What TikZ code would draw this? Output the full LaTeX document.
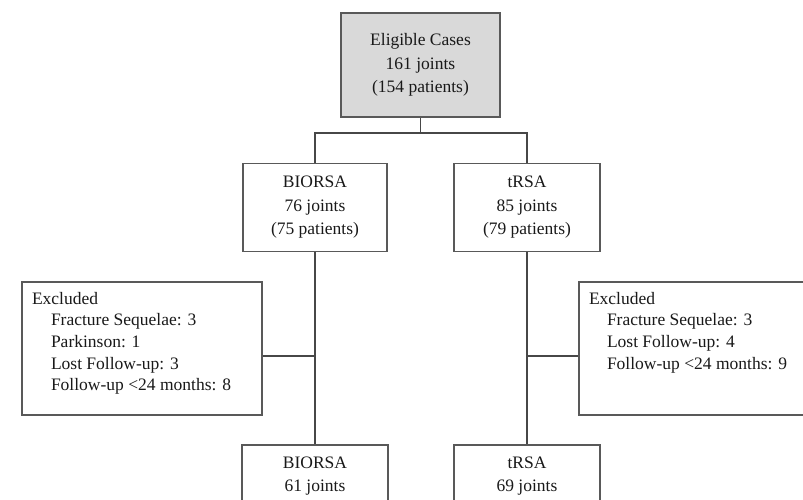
\documentclass[tikz,border=0pt]{standalone}
\usepackage{fontspec}
\setmainfont{Liberation Serif}
\usetikzlibrary{positioning}

\begin{document}
\begin{tikzpicture}[x=1pt, y=1pt, node distance=45pt and 0pt,
    every node/.style={text=black!90, font=\fontsize{17.5}{23.5}\selectfont},
    box/.style={draw=black!65, line width=1.5pt, align=center, inner sep=0pt},
    exclbox/.style={draw=black!65, line width=1.5pt, inner sep=10pt,
      font=\fontsize{17.5}{21.7}\selectfont},
    flow/.style={draw=black!72, line width=1.8pt}]
  \useasboundingbox (0,0) rectangle (803,-499);
  \clip (0,0) rectangle (803,-499);

  \node[box, fill=black!15, minimum width=159pt, minimum height=104pt] (eligible) at (420.5,-65) {Eligible Cases\\161 joints\\(154 patients)};
  \node[box, minimum width=144pt, minimum height=88pt] (bio) [below=of eligible, xshift=-105.5pt] {BIORSA\\76 joints\\(75 patients)};
  \node[box, minimum width=146pt, minimum height=88pt] (trsa) [below=of eligible, xshift=106.5pt] {tRSA\\85 joints\\(79 patients)};

  \node[exclbox] (exclbio) [below=29pt of bio, xshift=-173pt] {\parbox[c][113pt][t]{220pt}{Excluded\\
    \hspace*{19pt}Fracture Sequelae: 3\\
    \hspace*{19pt}Parkinson: 1\\
    \hspace*{19pt}Lost Follow-up: 3\\
    \hspace*{19pt}Follow-up <24 months: 8}};
  \node[exclbox] (excltrsa) [below=29pt of trsa, xshift=172pt] {\parbox[c][113pt][t]{220pt}{Excluded\\
    \hspace*{18pt}Fracture Sequelae: 3\\
    \hspace*{18pt}Lost Follow-up: 4\\
    \hspace*{18pt}Follow-up <24 months: 9}};

  \node[box, minimum width=146pt, minimum height=62pt] (biofinal) [below=192pt of bio] {BIORSA\\61 joints};
  \node[box, minimum width=146pt, minimum height=62pt] (trsafinal) [below=192pt of trsa] {tRSA\\69 joints};

  \coordinate (fork) at ([yshift=-15pt]eligible.south);

  \draw[flow] (eligible) -- (fork) -| (bio);
  \draw[flow] (fork) -| (trsa);
  \draw[flow] (bio) -- (biofinal);
  \draw[flow] (trsa) -- (trsafinal);
  \draw[flow] ([yshift=-7.5pt]exclbio.east) -- ([yshift=-7.5pt]exclbio.east -| bio);
  \draw[flow] ([yshift=-7.5pt]excltrsa.west) -- ([yshift=-7.5pt]excltrsa.west -| trsa);
\end{tikzpicture}
\end{document}
